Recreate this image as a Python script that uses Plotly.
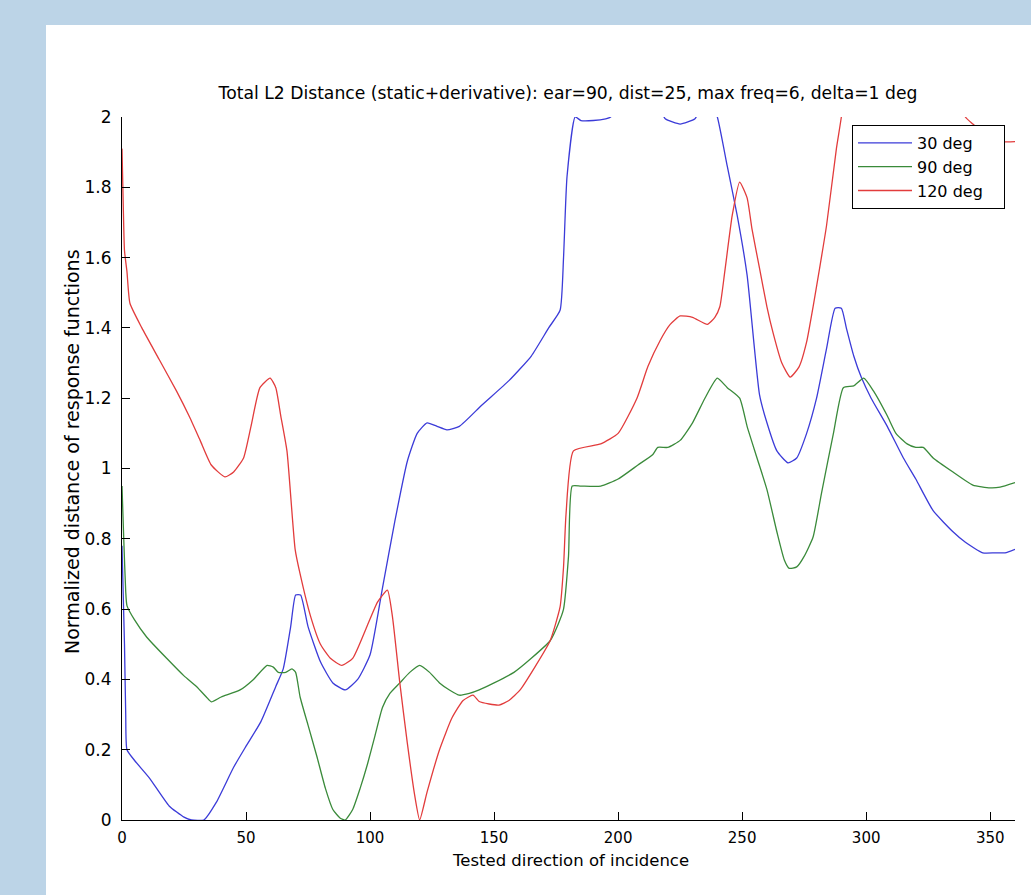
import plotly.graph_objects as go

# ---------------- data ----------------
title_text = "Total L2 Distance (static+derivative): ear=90, dist=25, max freq=6, delta=1 deg"
x_title = "Tested direction of incidence"
y_title = "Normalized distance of response functions"

series_names = ["30 deg", "90 deg", "120 deg"]

blue_x = [0, 1, 1.5, 2, 5, 11, 19, 25, 28, 33, 38, 45, 50, 56, 62, 65, 68, 70, 72, 75, 80, 85, 90, 95,
          100, 105, 110, 115, 119, 123, 127, 131, 136, 145, 156, 165, 172, 176.6, 178, 179.4, 182.7,
          185, 190, 195, 197, 200, 210, 217, 219, 225, 231, 233, 238, 240, 244, 248, 252, 257, 260,
          264, 268.5, 272, 276, 280, 284, 287.5, 290, 292, 295, 298, 302, 308.5, 315, 320, 327, 335,
          340, 347, 352, 356, 360]
blue_y = [0.78, 0.5, 0.3, 0.2, 0.17, 0.12, 0.04, 0.008, 0.0, 0.0, 0.05, 0.15, 0.21, 0.28, 0.38, 0.43,
          0.55, 0.64, 0.64, 0.55, 0.45, 0.39, 0.37, 0.40, 0.47, 0.66, 0.85, 1.02, 1.10, 1.13, 1.12,
          1.11, 1.12, 1.18, 1.25, 1.32, 1.40, 1.45, 1.6, 1.83, 2.0, 1.99, 1.99, 1.995, 2.0, 2.05,
          2.08, 2.02, 1.995, 1.98, 1.995, 2.02, 2.03, 2.0, 1.86, 1.72, 1.55, 1.21, 1.13, 1.05, 1.016,
          1.03, 1.1, 1.2, 1.34, 1.456, 1.456, 1.4, 1.32, 1.26, 1.2, 1.12, 1.03, 0.97, 0.88, 0.82,
          0.79, 0.76, 0.76, 0.76, 0.77]

green_x = [0, 0.7, 1.5, 2, 5, 10, 18, 25, 30, 34, 36, 40, 47.6, 53, 58.5, 61, 63, 66, 68.5, 70, 71.8,
           75, 78.6, 82, 85, 88, 90, 93, 96, 99, 102, 105, 108, 112, 116, 120, 124, 128, 132, 136,
           140, 144, 150, 158, 165, 172.6, 176, 178, 180, 181.5, 185, 193, 200, 208, 214, 216, 220,
           225, 230, 235, 240, 244, 249, 252, 256, 260, 264, 267, 269, 272, 275, 278.6, 282, 286.8,
           290.8, 295, 299, 303, 308.5, 312, 316.5, 320, 323, 327, 335, 343, 350, 354, 360]
green_y = [0.95, 0.8, 0.65, 0.61, 0.57, 0.52, 0.46, 0.41, 0.38, 0.35, 0.336, 0.35, 0.37, 0.40, 0.44,
           0.435, 0.42, 0.42, 0.43, 0.42, 0.35, 0.27, 0.18, 0.09, 0.03, 0.005, 0.0, 0.03, 0.09, 0.16,
           0.24, 0.32, 0.36, 0.39, 0.42, 0.44, 0.42, 0.39, 0.37, 0.355, 0.36, 0.37, 0.39, 0.42, 0.46,
           0.51, 0.56, 0.6, 0.75, 0.95, 0.95, 0.95, 0.97, 1.01, 1.04, 1.06, 1.06, 1.08, 1.13, 1.2,
           1.257, 1.23, 1.20, 1.12, 1.03, 0.94, 0.82, 0.74, 0.716, 0.72, 0.75, 0.805, 0.93, 1.10,
           1.23, 1.235, 1.257, 1.22, 1.15, 1.1, 1.07, 1.06, 1.06, 1.03, 0.99, 0.953, 0.945, 0.947, 0.96]

red_x = [0, 0.5, 1, 2, 3.2, 8, 15, 22, 27, 31.5, 36, 41.5, 45, 49, 52, 55.6, 59.7, 62, 64, 66.5, 69.8,
         71.8, 76, 80, 84, 88.6, 93, 98.7, 103, 107, 109, 112, 115, 118, 120, 123, 128, 133, 137.5,
         141.5, 144, 148, 152, 156, 160.5, 166, 172.6, 176.6, 178, 179, 182, 193, 200, 207.6, 212,
         217, 221, 225, 230, 236, 239, 241, 243, 246, 249, 252, 254, 257, 260, 262.5, 266, 269.4,
         273, 276, 278.6, 281, 284, 288, 290, 295, 305, 320, 335, 340, 343, 348, 355, 360]
red_y = [1.91, 1.75, 1.62, 1.56, 1.47, 1.40, 1.31, 1.22, 1.15, 1.08, 1.01, 0.976, 0.99, 1.03, 1.12,
         1.23, 1.257, 1.23, 1.15, 1.05, 0.77, 0.70, 0.58, 0.50, 0.46, 0.44, 0.46, 0.55, 0.62, 0.654,
         0.58, 0.39, 0.22, 0.07, 0.0, 0.08, 0.2, 0.29, 0.34, 0.355, 0.337, 0.33, 0.327, 0.34, 0.37,
         0.43, 0.51, 0.606, 0.72, 0.87, 1.05, 1.07, 1.10, 1.20, 1.29, 1.365, 1.41, 1.434, 1.43, 1.41,
         1.43, 1.46, 1.56, 1.72, 1.815, 1.77, 1.68, 1.57, 1.46, 1.385, 1.30, 1.26, 1.29, 1.36, 1.46,
         1.56, 1.69, 1.91, 2.0, 2.3, 2.5, 2.4, 2.1, 2.0, 1.98, 1.95, 1.93, 1.93]

x_ticks = [0, 50, 100, 150, 200, 250, 300, 350]
y_ticks = [0, 0.2, 0.4, 0.6, 0.8, 1, 1.2, 1.4, 1.6, 1.8, 2]
y_tick_labels = ["0", "0.2", "0.4", "0.6", "0.8", "1", "1.2", "1.4", "1.6", "1.8", "2"]

colors = ["#3b3bd8", "#3a8a3a", "#e23c3c"]

# ---------------- figure ----------------
W, H = 1031, 895
L, R, T, B = 122, 16, 117, 75
pw, ph = W - L - R, H - T - B

def px_x(p):
    return (p - L) / pw

def px_y(p):
    return (H - B - p) / ph

FONT = "DejaVu Sans"
NB = "\u00a0"

fig = go.Figure()
for xs, ys, name, c in zip([blue_x, green_x, red_x], [blue_y, green_y, red_y], series_names, colors):
    fig.add_trace(go.Scatter(x=xs, y=ys, mode="lines", name=name + NB * 3,
                             line=dict(color=c, width=1.3, shape="spline", smoothing=0.5)))

fig.update_layout(
    width=W, height=H, autosize=False,
    margin=dict(l=L, r=R, t=T, b=B, pad=0),
    paper_bgcolor="#bcd4e7",
    plot_bgcolor="white",
    font=dict(family=FONT, color="black", size=16),
    title=dict(text=title_text, x=568 / W, xanchor="center", y=1 - 93 / H, yanchor="middle",
               font=dict(size=17.2, family=FONT)),
    shapes=[dict(type="rect", xref="paper", yref="paper", layer="below",
                 x0=px_x(46), x1=px_x(W + 5), y0=px_y(H + 5), y1=px_y(25),
                 fillcolor="white", line=dict(width=0))],
    annotations=[
        dict(text=x_title, xref="paper", yref="paper", x=px_x(570), y=px_y(860),
             xanchor="center", yanchor="middle", showarrow=False, font=dict(size=16.5)),
        dict(text=y_title, xref="paper", yref="paper", x=px_x(72), y=px_y(452),
             xanchor="center", yanchor="middle", showarrow=False, textangle=-90,
             font=dict(size=19)),
    ],
    legend=dict(x=px_x(1005), xanchor="right", y=px_y(125), yanchor="top",
                bgcolor="white", bordercolor="black", borderwidth=1,
                font=dict(size=16, family=FONT), itemwidth=54, tracegroupgap=0),
    showlegend=True,
)
fig.update_xaxes(range=[0, 360], tickvals=x_ticks, ticks="inside", ticklen=8, tickcolor="black",
                 showline=True, linecolor="black", linewidth=1, showgrid=False, zeroline=False,
                 tickfont=dict(size=15), ticklabelstandoff=4)
fig.update_yaxes(range=[0, 2], tickvals=y_ticks, ticktext=y_tick_labels, ticks="inside", ticklen=8,
                 tickcolor="black", showline=True, linecolor="black", linewidth=1, showgrid=False,
                 zeroline=False, tickfont=dict(size=17), ticklabelstandoff=6)

fig.write_html("out.html", config={"displayModeBar": False},
               post_script="document.body.style.margin='0';")
